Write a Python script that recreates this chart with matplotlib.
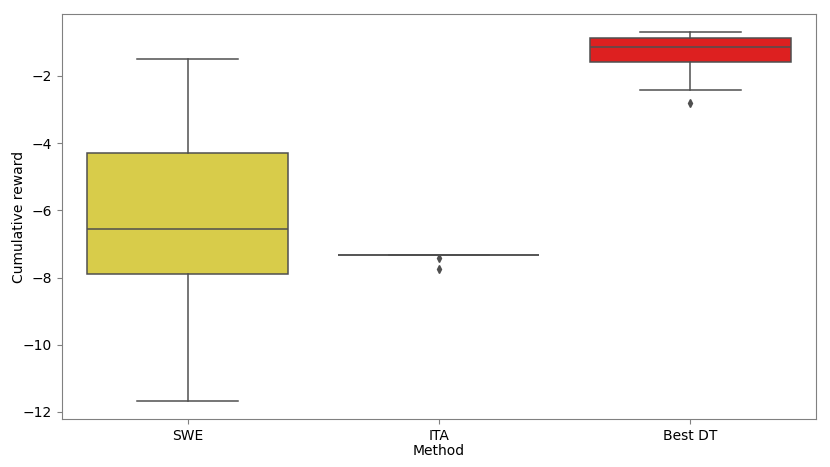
import matplotlib
matplotlib.use("Agg")
import matplotlib.pyplot as plt

methods = ["SWE", "ITA", "Best DT"]
whislo = [-11.67, -7.33, -2.42]
q1 = [-7.89, -7.33, -1.58]
med = [-6.55, -7.33, -1.14]
q3 = [-4.29, -7.33, -0.87]
whishi = [-1.49, -7.33, -0.69]
fliers = [[], [-7.42, -7.75], [-2.80]]
colors = ["#d8cc4a", "#4a6fd8", "#dd2020"]

LINE = "#4f4f4f"

stats = [dict(label=m, whislo=a, q1=b, med=c, q3=d, whishi=e, fliers=f)
         for m, a, b, c, d, e, f in zip(methods, whislo, q1, med, q3, whishi, fliers)]

fig = plt.figure(figsize=(8.3, 4.67), dpi=100)
ax = fig.add_axes([0.0747, 0.1028, 0.9083, 0.8672])
bp = ax.bxp(stats, positions=range(len(methods)), widths=0.8, patch_artist=True,
            boxprops=dict(edgecolor=LINE, linewidth=1.1),
            medianprops=dict(color=LINE, linewidth=1.1),
            whiskerprops=dict(color=LINE, linewidth=1.1),
            capprops=dict(color=LINE, linewidth=1.1),
            flierprops=dict(marker="d", markerfacecolor=LINE, markeredgecolor=LINE,
                            markersize=4))
for patch, c in zip(bp["boxes"], colors):
    patch.set_facecolor(c)

ax.set_xlim(-0.5, 2.5)
ax.set_ylim(-12.21, -0.155)
ax.set_yticks([-12, -10, -8, -6, -4, -2])
ax.set_xlabel("Method", fontsize=10, labelpad=1)
ax.set_ylabel("Cumulative reward", fontsize=10)
ax.yaxis.set_label_coords(-0.048, 0.5)
ax.tick_params(labelsize=10, color="#808080")
for s in ax.spines.values():
    s.set_color("#808080")
fig.savefig("out.png", dpi=100)
